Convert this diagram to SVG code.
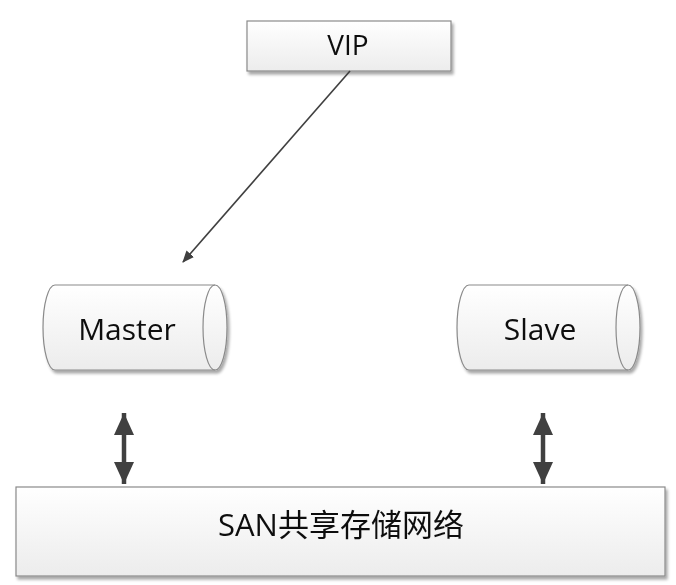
<svg xmlns="http://www.w3.org/2000/svg" width="676" height="585" viewBox="0 0 676 585">
<defs>
<linearGradient id="g" x1="0" y1="0" x2="0" y2="1">
<stop offset="0" stop-color="#ffffff"/>
<stop offset="1" stop-color="#ececec"/>
</linearGradient>
<filter id="sh" x="-10%" y="-10%" width="120%" height="130%">
<feGaussianBlur in="SourceAlpha" stdDeviation="1.5"/>
<feOffset dx="2" dy="3" result="b"/>
<feComponentTransfer><feFuncA type="linear" slope="0.35"/></feComponentTransfer>
<feMerge><feMergeNode/><feMergeNode in="SourceGraphic"/></feMerge>
</filter>
<marker id="ah" viewBox="0 0 12 10" refX="11" refY="5" markerWidth="12" markerHeight="10" markerUnits="userSpaceOnUse" orient="auto">
<path d="M0,0 L12,5 L0,10 z" fill="#404040"/>
</marker>
<marker id="big" viewBox="0 0 22 20" refX="22" refY="10" markerWidth="22" markerHeight="20" markerUnits="userSpaceOnUse" orient="auto-start-reverse">
<path d="M0,0 L22,10 L0,20 z" fill="#404040"/>
</marker>
</defs>
<style>
.box{fill:url(#g);stroke:#8a8a8a;stroke-width:1.2}
.t{font-family:"Open Sans","Noto Sans CJK SC",sans-serif;fill:#111111;text-anchor:middle}
</style>
<rect width="676" height="585" fill="#ffffff"/>
<g id="vip" filter="url(#sh)">
<rect class="box" x="247" y="21" width="204" height="50"/>
<text class="t" x="348" y="55" font-size="28">VIP</text>
</g>
<g id="master" filter="url(#sh)">
<path class="box" d="M55,285 L215,285 A12,42.5 0 0 1 215,370 L55,370 A12,42.5 0 0 1 55,285 Z"/>
<path d="M215,285 A12,42.5 0 0 0 215,370" fill="none" stroke="#8a8a8a" stroke-width="1.2"/>
<text class="t" x="127" y="340" font-size="30">Master</text>
</g>
<g id="slave" filter="url(#sh)">
<path class="box" d="M469,285 L628,285 A12,42.5 0 0 1 628,370 L469,370 A12,42.5 0 0 1 469,285 Z"/>
<path d="M628,285 A12,42.5 0 0 0 628,370" fill="none" stroke="#8a8a8a" stroke-width="1.2"/>
<text class="t" x="540" y="340" font-size="30">Slave</text>
</g>
<g id="san" filter="url(#sh)">
<rect class="box" x="16" y="487" width="649" height="89"/>
<text class="t" x="341" y="536" font-size="31">SAN共享存储网络</text>
</g>
<g id="connectors" stroke="#404040" fill="none">
<line x1="350" y1="71" x2="183" y2="262" stroke-width="1.6" marker-end="url(#ah)"/>
<line x1="124" y1="413" x2="124" y2="484" stroke-width="4.5" marker-start="url(#big)" marker-end="url(#big)"/>
<line x1="543" y1="413" x2="543" y2="484" stroke-width="4.5" marker-start="url(#big)" marker-end="url(#big)"/>
</g>
</svg>
